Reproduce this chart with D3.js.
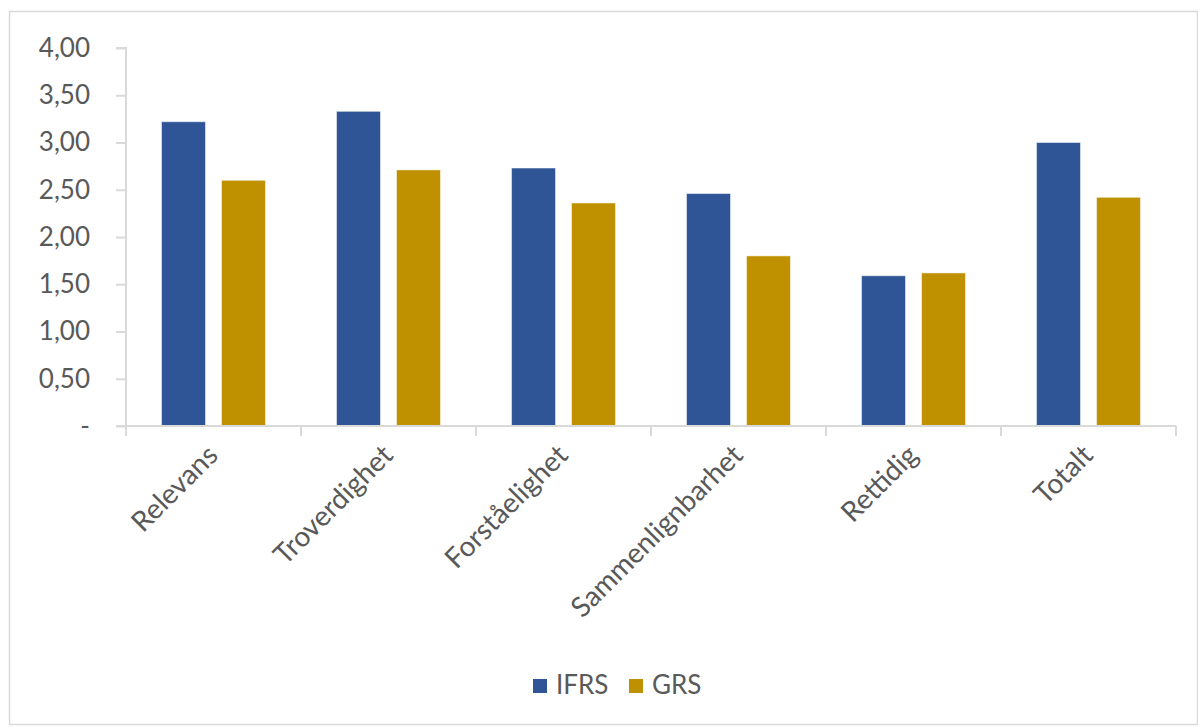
<!DOCTYPE html>
<html>
<head>
<meta charset="utf-8">
<script src="https://cdn.jsdelivr.net/npm/d3@7"></script>
<style>
  body { margin: 0; background: #fff; }
  text { font-family: Lato, "Open Sans", sans-serif; fill: #595959; }
</style>
</head>
<body>
<div id="chart"></div>
<script>
// Chart data
const categories = ["Relevans", "Troverdighet", "Forståelighet", "Sammenlignbarhet", "Rettidig", "Totalt"];
const seriesNames = ["IFRS", "GRS"];
const ifrsValues = [3.22, 3.33, 2.73, 2.46, 1.59, 3.00];
const grsValues = [2.60, 2.71, 2.36, 1.80, 1.62, 2.42];
const yTicks = [0, 0.5, 1, 1.5, 2, 2.5, 3, 3.5, 4];
const colors = ["#2F5597", "#BF9000"];

const width = 1198, height = 727;
const margin = { left: 126, right: 22, top: 48, bottom: 301 };

const svg = d3.select("#chart").append("svg")
    .attr("width", width)
    .attr("height", height);

// Outer frame
svg.append("rect")
    .attr("x", 9.5).attr("y", 11.5)
    .attr("width", width - 10).attr("height", height - 14)
    .attr("fill", "none")
    .attr("stroke", "#d9d9d9")
    .attr("stroke-width", 1.5);

const x0 = d3.scaleBand()
    .domain(categories)
    .range([margin.left, width - margin.right])
    .padding(0);

const x1 = d3.scaleBand()
    .domain(seriesNames)
    .range([x0.bandwidth() * 0.203, x0.bandwidth() * 0.797])
    .paddingInner(0.267);

const y = d3.scaleLinear()
    .domain([0, 4])
    .range([height - margin.bottom, margin.top]);

const fmt = d => d === 0 ? "-" : d3.format(".2f")(d).replace(".", ",");

// Y axis
const yAxis = svg.append("g")
    .attr("transform", `translate(${margin.left},0)`)
    .call(d3.axisLeft(y).tickValues(yTicks).tickFormat(fmt).tickSize(10).tickPadding(26));
yAxis.selectAll("path, line").attr("stroke", "#d9d9d9").attr("stroke-width", 2);
yAxis.select(".domain").attr("d", `M-10,${y(4)}H0V${y(0)}`);
yAxis.selectAll("text").attr("font-size", 26).style("font-family", "Lato, sans-serif").attr("fill", "#595959");

// Bars
const data = categories.map((c, i) => ({ cat: c, vals: [ifrsValues[i], grsValues[i]] }));
const groups = svg.append("g").selectAll("g")
    .data(data)
    .enter().append("g")
    .attr("transform", d => `translate(${x0(d.cat)},0)`);

groups.selectAll("rect")
    .data(d => d.vals.map((v, i) => ({ key: seriesNames[i], v: v, i: i })))
    .enter().append("rect")
    .attr("x", d => x1(d.key))
    .attr("y", d => y(d.v))
    .attr("width", x1.bandwidth())
    .attr("height", d => y(0) - y(d.v))
    .attr("fill", d => colors[d.i])
    .attr("stroke", "#ffffff")
    .attr("stroke-opacity", 0.5)
    .attr("stroke-width", 1);

// X axis
const xAxis = svg.append("g")
    .attr("transform", `translate(0,${y(0)})`)
    .call(d3.axisBottom(x0).tickSize(0).tickFormat(""));
xAxis.select(".domain").attr("stroke", "#d9d9d9").attr("stroke-width", 2)
    .attr("d", `M${margin.left - 10},0H${width - margin.right}`);

// Category boundary ticks
xAxis.selectAll(".sep")
    .data(d3.range(categories.length + 1))
    .enter().append("line")
    .attr("x1", i => margin.left + i * x0.step())
    .attr("x2", i => margin.left + i * x0.step())
    .attr("y1", 0).attr("y2", 10)
    .attr("stroke", "#d9d9d9").attr("stroke-width", 2);

// Rotated labels
svg.append("g").selectAll("text")
    .data(categories)
    .enter().append("text")
    .attr("transform", d => `translate(${x0(d) + x0.bandwidth() / 2 + 6},${y(0) + 31}) rotate(-45)`)
    .attr("text-anchor", "end")
    .attr("font-size", 28)
    .text(d => d);

// Legend
const legend = svg.append("g").attr("transform", "translate(533,679)");
const legendX = [0, 96];
seriesNames.forEach((s, i) => {
    const g = legend.append("g").attr("transform", `translate(${legendX[i]},0)`);
    g.append("rect").attr("width", 14).attr("height", 14).attr("fill", colors[i]);
    g.append("text").attr("x", 23).attr("y", 15).attr("font-size", 26).text(s);
});
</script>
</body>
</html>
